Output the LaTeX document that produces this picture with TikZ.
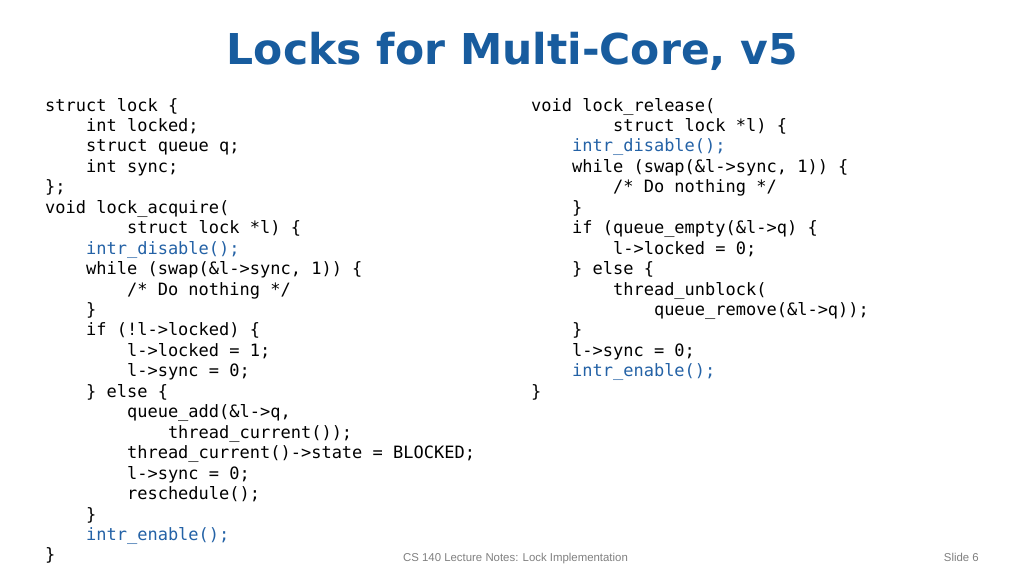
\documentclass[tikz,border=0pt]{standalone}
\usepackage{fontspec}
\newfontfamily\codefont{DejaVu Sans Mono}
\newfontfamily\titlefont{DejaVu Sans}
\newfontfamily\footfont{Liberation Sans}
\definecolor{titleblue}{RGB}{24,92,158}
\definecolor{codeblue}{RGB}{36,98,166}
\definecolor{footgray}{RGB}{128,128,128}
\newcommand{\ind}[1]{\hspace*{#1\dimexpr 2.408em\relax}}
\newcommand{\hl}[1]{\textcolor{codeblue}{#1}}
\tikzset{
	code/.style={inner sep=0pt,anchor=base west,align=left,
		font=\codefont\fontsize{17}{20.45}\selectfont},
	slidetitle/.style={inner sep=0pt,anchor=base,text=titleblue,
		font=\titlefont\bfseries\fontsize{42.5}{48}\selectfont},
	foot/.style={inner sep=0pt,text=footgray,font=\footfont\fontsize{11.4}{13}\selectfont}
}
\begin{document}
\begin{tikzpicture}[x=1pt,y=1pt,line join=round,line cap=round]
	\useasboundingbox[fill=white] (0,0) rectangle (1024,576);
	\node[slidetitle] (title) at (512.5,511) {Locks for Multi-Core, v5};
	\node[code] (acquire) at (45,15.1) {%
		struct lock \{\\
		\ind1int locked;\\
		\ind1struct queue q;\\
		\ind1int sync;\\
		\};\\
		void lock\_acquire(\\
		\ind2struct lock *l) \{\\
		\ind1\hl{intr\_disable();}\\
		\ind1while (swap(\&l->sync, 1)) \{\\
		\ind2/* Do nothing */\\
		\ind1\}\\
		\ind1if (!l->locked) \{\\
		\ind2l->locked = 1;\\
		\ind2l->sync = 0;\\
		\ind1\} else \{\\
		\ind2queue\_add(\&l->q,\\
		\ind3thread\_current());\\
		\ind2thread\_current()->state = BLOCKED;\\
		\ind2l->sync = 0;\\
		\ind2reschedule();\\
		\ind1\}\\
		\ind1\hl{intr\_enable();}\\
		\}};
	\node[code] (release) at (531,178.7) {%
		void lock\_release(\\
		\ind2struct lock *l) \{\\
		\ind1\hl{intr\_disable();}\\
		\ind1while (swap(\&l->sync, 1)) \{\\
		\ind2/* Do nothing */\\
		\ind1\}\\
		\ind1if (queue\_empty(\&l->q) \{\\
		\ind2l->locked = 0;\\
		\ind1\} else \{\\
		\ind2thread\_unblock(\\
		\ind3queue\_remove(\&l->q));\\
		\ind1\}\\
		\ind1l->sync = 0;\\
		\ind1\hl{intr\_enable();}\\
		\}};
	\node[foot,anchor=base] (course) at (515.5,15) {CS 140 Lecture Notes: Lock Implementation};
	\node[foot,anchor=base east] (slideno) at (979,15) {Slide 6};
\end{tikzpicture}
\end{document}
